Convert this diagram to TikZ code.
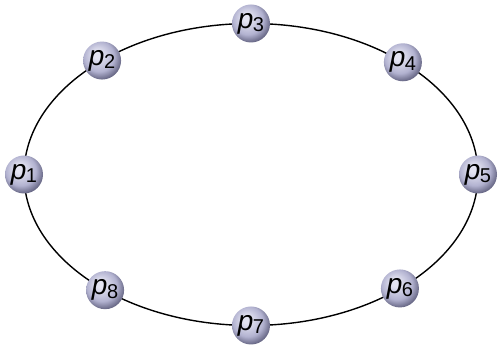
\documentclass[tikz,border=0pt]{standalone}
\usepackage{fontspec}
\setmainfont{Liberation Sans}
\definecolor{ballhl}{RGB}{228,228,242}
\definecolor{ballmid}{RGB}{178,178,208}
\definecolor{balledge}{RGB}{92,92,122}
\pgfdeclareradialshading{pballshade}{\pgfpoint{-7bp}{9bp}}{%
  color(0bp)=(ballhl); color(5bp)=(ballhl); color(20bp)=(ballmid);
  color(30bp)=(balledge); color(34bp)=(balledge!80!black); color(50bp)=(balledge!60!black)}
\newcommand{\plab}[1]{\textit{p}\kern-0.5pt\raisebox{-3.5pt}{\fontsize{20}{20}\selectfont #1}}
\tikzset{
  pball/.style={circle, minimum size=38pt, inner sep=0pt, shading=pballshade,
    font=\fontsize{28}{28}\selectfont},
  orbit/.style={line width=1.4pt, black}
}
\begin{document}
\begin{tikzpicture}[x=1pt,y=1pt]
\useasboundingbox (0,0) rectangle (499,345);
\coordinate (c) at (251,170.5);
\draw[orbit] (c) ellipse (227 and 151);
\node[pball] (p1) at ([shift={(c)}]180:227 and 151) {\plab{1}};
\node[pball] (p2) at ([shift={(c)}]131:227 and 151) {\plab{2}};
\node[pball] (p3) at ([shift={(c)}]90:227 and 151) {\plab{3}};
\node[pball] (p4) at ([shift={(c)}]48:227 and 151) {\plab{4}};
\node[pball] (p5) at ([shift={(c)}]0:227 and 151) {\plab{5}};
\node[pball] (p6) at ([shift={(c)}]-49:227 and 151) {\plab{6}};
\node[pball] (p7) at ([shift={(c)}]270:227 and 151) {\plab{7}};
\node[pball] (p8) at ([shift={(c)}]230:227 and 151) {\plab{8}};
\end{tikzpicture}
\end{document}
